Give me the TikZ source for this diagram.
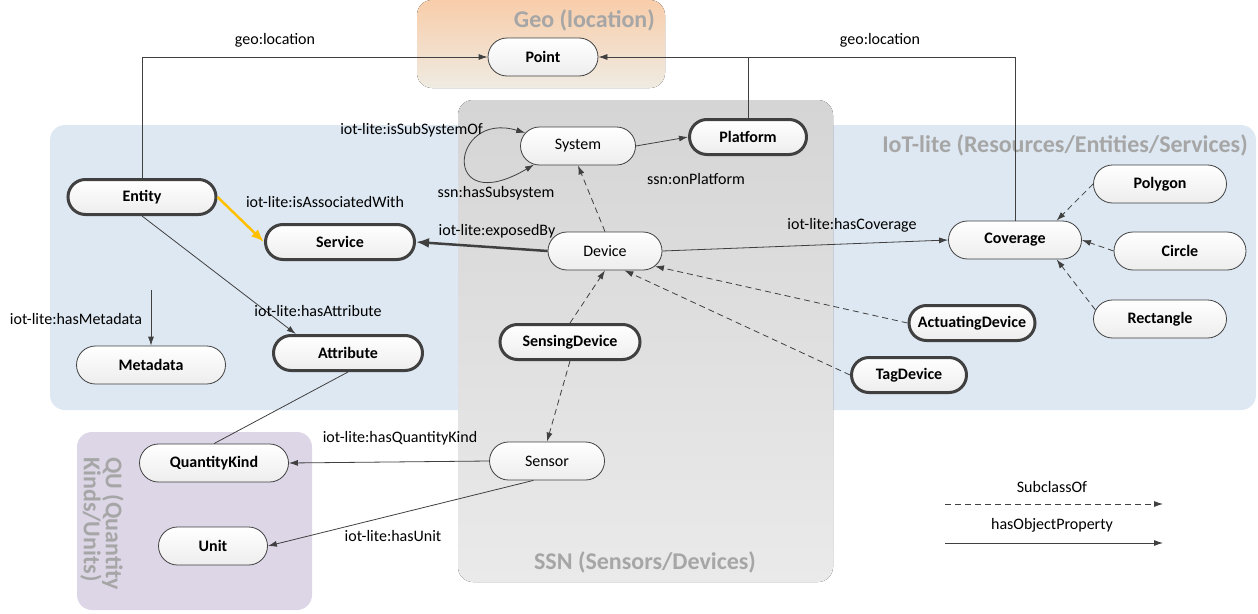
\documentclass[tikz,border=0pt]{standalone}
\usepackage{fontspec}
\setmainfont{Carlito}
\usetikzlibrary{positioning,arrows.meta,shapes.misc}

\definecolor{linegray}{HTML}{404040}
\definecolor{titlegray}{HTML}{A6A6A6}
\definecolor{iotblue}{HTML}{DEE8F2}
\definecolor{ssntop}{HTML}{D5D5D5}
\definecolor{ssnbot}{HTML}{EAEAEA}
\definecolor{geotop}{HTML}{F8CDAA}
\definecolor{geobot}{HTML}{EFEBE2}
\definecolor{qulilac}{HTML}{DDD6E7}
\definecolor{assocyellow}{HTML}{FFC000}

\tikzset{
  grp/.style={rounded corners=15pt},
  grptitle/.style={text=titlegray, font=\fontsize{24}{22}\selectfont\bfseries, inner sep=0pt},
  cls/.style={rounded rectangle, draw=linegray, line width=0.8pt, top color=white, bottom color=black!7,
    minimum height=38pt, inner sep=0pt, font=\fontsize{16}{18}\selectfont\bfseries},
  clsplain/.style={cls, font=\fontsize{16}{18}\selectfont},
  core/.style={cls, line width=3pt, minimum height=35pt},
  lbl/.style={font=\fontsize{16}{18}\selectfont, inner sep=0pt},
  rel/.style={draw=linegray, line width=0.8pt, >={Latex[length=9pt,width=6pt]}, ->},
  bigtip/.style={line width=2.5pt, >={Latex[length=13pt,width=10pt]}},
  sub/.style={rel, dash pattern=on 6pt off 4pt},
}

\begin{document}
\begin{tikzpicture}[x=1pt,y=-1pt]
\useasboundingbox (0,0) rectangle (1258,613);

% module boxes
\fill[grp, iotblue] (50,125) rectangle (1256,410);
\fill[grp, top color=ssntop, bottom color=ssnbot] (458,100) rectangle (833,582);
\fill[grp, top color=geotop, bottom color=geobot] (417,0) rectangle (665,88);
\fill[grp, qulilac] (77,432) rectangle (312,610);

\node[grptitle, anchor=east] (tgeo) at (655,20) {Geo (location)};
\node[grptitle, anchor=east] (tiot) at (1248,145) {IoT-lite (Resources/Entities/Services)};
\node[grptitle] (tssn) at (645,562) {SSN (Sensors/Devices)};
\node[grptitle, rotate=-90, anchor=north west, align=left] (tqu) at (124,457) {QU (Quantity\\Kinds/Units)};

% classes
\node[cls, minimum width=110pt] (point) at (543,57) {Point};
\node[clsplain, minimum width=115pt] (system) at (578,146) {System};
\node[core, minimum width=117pt] (platform) at (748,137) {Platform};
\node[core, minimum width=148pt] (entity) at (142,197) {Entity};
\node[core, minimum width=149pt] (service) at (340,242) {Service};
\node[clsplain, minimum width=114pt] (device) at (605,251) {Device};
\node[cls, minimum width=133pt] (coverage) at (1015,240) {Coverage};
\node[cls, minimum width=133pt] (polygon) at (1160,184) {Polygon};
\node[cls, minimum width=132pt] (circle) at (1180,251) {Circle};
\node[cls, minimum width=133pt] (rectangle) at (1160,319) {Rectangle};
\node[core, minimum width=126pt] (actuating) at (972,323) {ActuatingDevice};
\node[core, minimum width=115pt] (tag) at (909,375) {TagDevice};
\node[core, minimum width=140pt] (sensing) at (570,342) {SensingDevice};
\node[cls, minimum width=149pt] (metadata) at (151,365) {Metadata};
\node[core, minimum width=149pt] (attribute) at (348,353) {Attribute};
\node[cls, minimum width=149pt] (quantity) at (214,463) {QuantityKind};
\node[cls, minimum width=109pt] (unit) at (213,546) {Unit};
\node[clsplain, minimum width=115pt] (sensor) at (547,461) {Sensor};

% object properties
\draw[rel] (entity.north) |- (point.west);
\draw[rel] (coverage.north) |- (point.east);
\draw[linegray, line width=0.8pt] (platform.north) -- (platform.north |- point.east);
\draw[rel, <->] (system.166) .. controls (450,110) and (440,220) .. (system.203);
\draw[rel] (system.east) -- (platform.west);
\draw[rel, bigtip] (device.west) -- (service.east);
\draw[rel] (device.east) -- (coverage.west);
\draw[rel, bigtip, draw=assocyellow] (entity.east) -- (service.west);
\draw[rel] (entity.south) -- (attribute.160);
\coordinate (mdstart) at (151,290);
\draw[rel] (mdstart) -- (metadata.north);
\draw[linegray, line width=0.8pt] (attribute.south) -- (quantity.north);
\draw[rel] (sensor.west) -- (quantity.east);
\draw[rel] (sensor.235) -- (unit.east);

% subclasses
\draw[sub] (device.north) -- (system.south);
\draw[sub] (sensing.north) -- (device.south);
\draw[sub] (actuating.west) -- (device.-17);
\draw[sub] (tag.west) -- (device.-45);
\draw[sub] (sensing.south) -- (sensor.north);
\draw[sub] (polygon.west) -- (coverage.25);
\draw[sub] (circle.west) -- (coverage.east);
\draw[sub] (rectangle.172) -- (coverage.-25);

% property names
\node[lbl] (lgeo1) at (275,40) {geo:location};
\node[lbl] (lgeo2) at (880,40) {geo:location};
\node[lbl, anchor=east] (lsubof) at (483,130) {iot-lite:isSubSystemOf};
\node[lbl] (lhassub) at (496,193) {ssn:hasSubsystem};
\node[lbl] (lonplat) at (696,179) {ssn:onPlatform};
\node[lbl] (lassoc) at (325,202) {iot-lite:isAssociatedWith};
\node[lbl] (lexposed) at (497,231) {iot-lite:exposedBy};
\node[lbl] (lcover) at (852,225) {iot-lite:hasCoverage};
\node[lbl] (lattr) at (318,311) {iot-lite:hasAttribute};
\node[lbl] (lmeta) at (76,319) {iot-lite:hasMetadata};
\node[lbl] (lqk) at (400,438) {iot-lite:hasQuantityKind};
\node[lbl] (lunit) at (393,536) {iot-lite:hasUnit};

% legend
\coordinate (subA) at (945,504);
\coordinate (subB) at (1163,504);
\coordinate (propA) at (945,543);
\coordinate (propB) at (1163,543);
\draw[sub] (subA) -- (subB);
\draw[rel] (propA) -- (propB);
\node[lbl] (lsubclass) at (1052,487) {SubclassOf};
\node[lbl] (lobjprop) at (1052,525) {hasObjectProperty};

\end{tikzpicture}
\end{document}
